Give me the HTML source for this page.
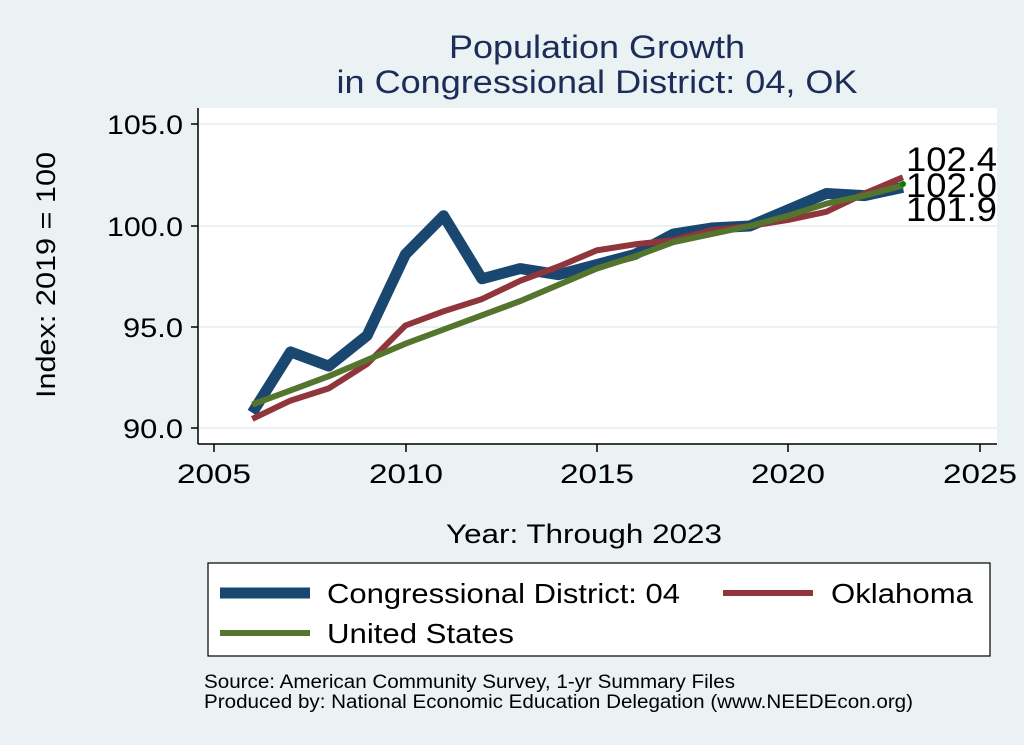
<!DOCTYPE html>
<html><head><meta charset="utf-8"><style>
html,body{margin:0;padding:0;background:#eaf2f3;}
svg{display:block;font-family:"Liberation Sans",Arial,sans-serif;}
</style></head><body>
<svg id="s" width="1024" height="745" viewBox="0 0 1024 745" xmlns="http://www.w3.org/2000/svg">
<rect width="1024" height="745" fill="#eaf2f3"/>
<text x="597" y="58" font-size="32" fill="#1c2d59" text-anchor="middle" textLength="296" lengthAdjust="spacingAndGlyphs">Population Growth</text>
<text x="597" y="93" font-size="32" fill="#1c2d59" text-anchor="middle" textLength="521" lengthAdjust="spacingAndGlyphs">in Congressional District: 04, OK</text>
<rect x="198" y="108" width="799" height="336" fill="#fff"/>
<g stroke="#eaf2f3" stroke-width="2">
<line x1="199" x2="997" y1="124" y2="124"/><line x1="199" x2="997" y1="226" y2="226"/>
<line x1="199" x2="997" y1="327" y2="327"/><line x1="199" x2="997" y1="428" y2="428"/>
</g>
<g stroke="#000" stroke-width="1.5">
<line x1="198" y1="108" x2="198" y2="444"/><line x1="198" y1="444" x2="997" y2="444"/>
<line x1="191" x2="198" y1="124" y2="124"/><line x1="191" x2="198" y1="226" y2="226"/>
<line x1="191" x2="198" y1="327" y2="327"/><line x1="191" x2="198" y1="428" y2="428"/>
<line x1="214" x2="214" y1="444" y2="452"/><line x1="406" x2="406" y1="444" y2="452"/>
<line x1="597" x2="597" y1="444" y2="452"/><line x1="788" x2="788" y1="444" y2="452"/>
<line x1="980" x2="980" y1="444" y2="452"/>
</g>
<g font-size="27" fill="#000" text-anchor="end">
<text x="183" y="134" textLength="76" lengthAdjust="spacingAndGlyphs">105.0</text><text x="183" y="236" textLength="76" lengthAdjust="spacingAndGlyphs">100.0</text>
<text x="183" y="337" textLength="60" lengthAdjust="spacingAndGlyphs">95.0</text><text x="183" y="438" textLength="60" lengthAdjust="spacingAndGlyphs">90.0</text>
</g>
<g font-size="27" fill="#000" text-anchor="middle">
<text x="214" y="483" textLength="74" lengthAdjust="spacingAndGlyphs">2005</text><text x="406" y="483" textLength="74" lengthAdjust="spacingAndGlyphs">2010</text><text x="597" y="483" textLength="74" lengthAdjust="spacingAndGlyphs">2015</text>
<text x="788" y="483" textLength="74" lengthAdjust="spacingAndGlyphs">2020</text><text x="980" y="483" textLength="74" lengthAdjust="spacingAndGlyphs">2025</text>
</g>
<text x="584" y="543" font-size="27" text-anchor="middle" textLength="276" lengthAdjust="spacingAndGlyphs">Year: Through 2023</text>
<text transform="translate(55,275) rotate(-90)" font-size="27" text-anchor="middle" textLength="246" lengthAdjust="spacingAndGlyphs">Index: 2019 = 100</text>
<g id="lines" fill="none" stroke-linejoin="round"></g>
<circle cx="903" cy="184" r="3" fill="#008000"/>
<g font-size="34" fill="#000">
<text x="906" y="171" textLength="91" lengthAdjust="spacingAndGlyphs">102.4</text><text x="906" y="197" textLength="91" lengthAdjust="spacingAndGlyphs">102.0</text><text x="906" y="221" textLength="91" lengthAdjust="spacingAndGlyphs">101.9</text>
</g>
<rect x="208" y="563" width="782" height="93" fill="#fff" stroke="#000" stroke-width="1.2"/>
<line x1="220" x2="310" y1="593" y2="593" stroke="#1a476f" stroke-width="11"/>
<line x1="723" x2="813" y1="593" y2="593" stroke="#90353b" stroke-width="6"/>
<line x1="220" x2="310" y1="633" y2="633" stroke="#55752f" stroke-width="6"/>
<g font-size="28" fill="#000">
<text x="327" y="603" textLength="353" lengthAdjust="spacingAndGlyphs">Congressional District: 04</text>
<text x="831" y="603" textLength="142" lengthAdjust="spacingAndGlyphs">Oklahoma</text>
<text x="327" y="643" textLength="187" lengthAdjust="spacingAndGlyphs">United States</text>
</g>
<g font-size="19" fill="#000">
<text x="204" y="688" textLength="531" lengthAdjust="spacingAndGlyphs">Source: American Community Survey, 1-yr Summary Files</text>
<text x="204" y="708" textLength="709" lengthAdjust="spacingAndGlyphs">Produced by: National Economic Education Delegation (www.NEEDEcon.org)</text>
</g>
</svg>
<script>
var X=function(y){return 214+(y-2005)*38.27},Y=function(v){return 226-(v-100)*20.3};
var d={
us:{c:"#55752f",w:6,v:[91.2,91.9,92.6,93.4,94.2,94.9,95.6,96.3,97.1,97.9,98.5,99.2,99.6,100,100.5,101.1,101.5,102.0]},
ok:{c:"#90353b",w:6,v:[90.5,91.4,92.0,93.2,95.1,95.8,96.4,97.3,98.0,98.8,99.1,99.3,99.8,100,100.3,100.7,101.6,102.4]},
cd:{c:"#1a476f",w:11,v:[90.8,93.8,93.1,94.6,98.6,100.5,97.4,97.9,97.6,98.1,98.6,99.6,99.9,100,100.8,101.6,101.5,101.9]}};
var g=document.getElementById("lines"),ns="http://www.w3.org/2000/svg";
["cd","ok","us"].forEach(function(k){var s=d[k],p=s.v.map(function(v,i){return X(2006+i).toFixed(1)+","+Y(v).toFixed(1)}).join(" ");
var e=document.createElementNS(ns,"polyline");e.setAttribute("points",p);e.setAttribute("stroke",s.c);e.setAttribute("stroke-width",s.w);g.appendChild(e);});
</script>
</body></html>
